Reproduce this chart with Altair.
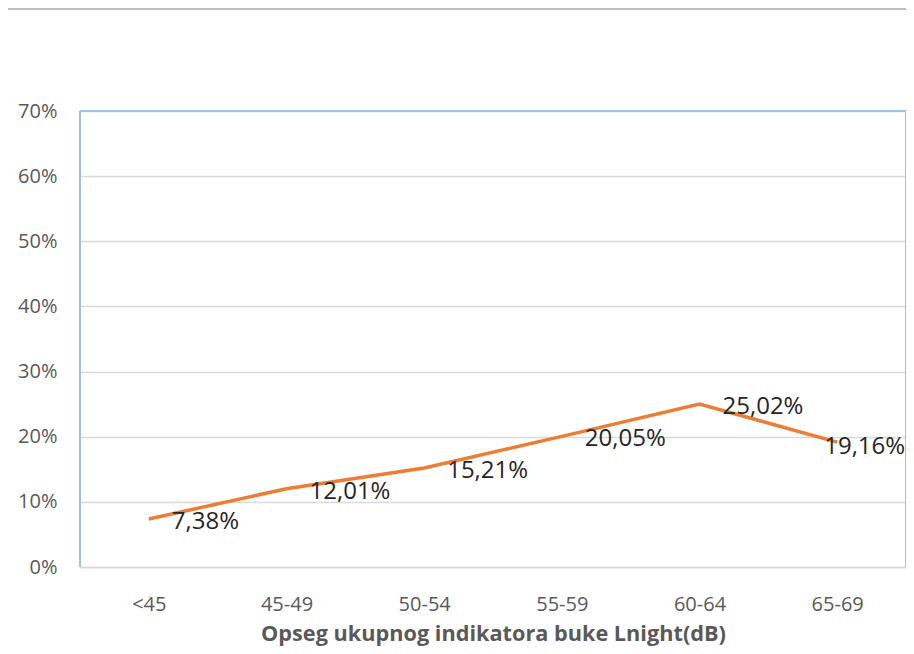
import altair as alt
import pandas as pd

categories = ["<45", "45-49", "50-54", "55-59", "60-64", "65-69"]
values = [0.0738, 0.1201, 0.1521, 0.2005, 0.2502, 0.1916]
labels = ["7,38%", "12,01%", "15,21%", "20,05%", "25,02%", "19,16%"]
y_ticks = [0, 0.1, 0.2, 0.3, 0.4, 0.5, 0.6, 0.7]

df = pd.DataFrame({"cat": categories, "val": values, "lab": labels})

FONT = "Open Sans"
W, H = 826, 456
BORDER = "#9DC3E6"

x_enc = alt.X(
    "cat:N",
    sort=categories,
    scale=alt.Scale(paddingInner=0, paddingOuter=0.5),
    axis=alt.Axis(
        title="Opseg ukupnog indikatora buke Lnight(dB)",
        titleFont=FONT, titleFontSize=21.7, titleFontWeight="bold", titleColor="#595959",
        titlePadding=9,
        labelFont=FONT, labelFontSize=20, labelColor="#595959", labelPadding=27,
        labelAngle=0, ticks=False, domainColor="#d9d9d9", domainWidth=1.3, grid=False,
    ),
)
y_enc = alt.Y(
    "val:Q",
    scale=alt.Scale(domain=[0, 0.7], nice=False),
    axis=alt.Axis(
        title=None, values=y_ticks, format=".0%",
        labelFont=FONT, labelFontSize=20, labelColor="#595959", labelPadding=23,
        ticks=False, domain=False, gridColor="#d9d9d9", gridWidth=1.3,
    ),
)

line = alt.Chart(df).mark_line(color="#ED7D31", strokeWidth=3.5).encode(x=x_enc, y=y_enc)

text_main = alt.Chart(df.iloc[:-1]).mark_text(
    align="left", baseline="middle", dx=23, dy=3, font=FONT, fontSize=24, color="#262626"
).encode(x=alt.X("cat:N", sort=categories), y=alt.Y("val:Q"), text="lab:N")

text_last = alt.Chart(df.iloc[-1:]).mark_text(
    align="right", baseline="middle", dx=68, dy=5, font=FONT, fontSize=24, color="#262626"
).encode(x=alt.X("cat:N", sort=categories), y=alt.Y("val:Q"), text="lab:N")

border_left = alt.Chart(df).mark_rule(color=BORDER, strokeWidth=1.5).encode(
    x=alt.value(0), y=alt.value(0), y2=alt.value(H)
)
border_top = alt.Chart(df).mark_rule(color=BORDER, strokeWidth=1.5).encode(
    x=alt.value(0), x2=alt.value(W), y=alt.value(0)
)
border_right = alt.Chart(df).mark_rule(color=BORDER, strokeWidth=1.5).encode(
    x=alt.value(W), y=alt.value(0), y2=alt.value(H)
)

top_rule = alt.Chart(df).mark_rule(color="#bdbdbd", strokeWidth=2).encode(
    x=alt.value(-80), x2=alt.value(W + 20), y=alt.value(-102)
)

chart = (
    alt.layer(line, border_left, border_top, border_right, text_main, text_last, top_rule)
    .properties(
        width=W,
        height=H,
        padding={"left": 72, "top": 103, "right": 0, "bottom": 79},
        autosize=alt.AutoSizeParams(type="none"),
    )
    .configure_view(stroke=None)
    .configure(background="white")
)

chart.save("out.html", embed_options={"renderer": "svg", "actions": False})
